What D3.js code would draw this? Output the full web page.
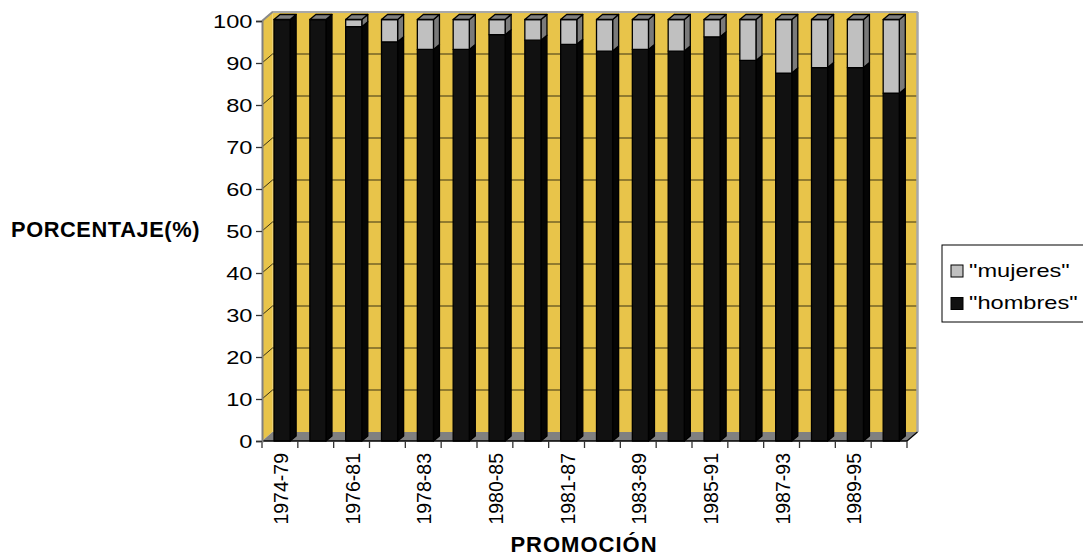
<!DOCTYPE html>
<html>
<head>
<meta charset="utf-8">
<script src="https://cdn.jsdelivr.net/npm/d3@7"></script>
<style>
  html, body { margin: 0; padding: 0; background: #fff; }
  svg { display: block; font-family: "Liberation Sans", Arial, sans-serif; }
</style>
</head>
<body>
<svg id="chart" width="1083" height="557"></svg>
<script>
// Promociones (cohorts) along the x axis
const categories = ["1974-79","1975-80","1976-81","1977-82","1978-83","1979-84","1980-85","1981-86","1981-87",
                    "1982-88","1983-89","1984-90","1985-91","1986-92","1987-93","1988-94","1989-95","1990-96"];
// Percentage of men in each promoción
const hombres = [100, 100, 98.3, 94.7, 92.9, 92.9, 96.4, 95.1, 94.1, 92.5, 92.9, 92.5, 95.9, 90.3, 87.3, 88.6, 88.6, 82.5];
// Percentage of women in each promoción
const mujeres = [0, 0, 1.7, 5.3, 7.1, 7.1, 3.6, 4.9, 5.9, 7.5, 7.1, 7.5, 4.1, 9.7, 12.7, 11.4, 11.4, 17.5];
// Category labels that are printed (every other promoción)
const tickLabels = ["1974-79","1976-81","1978-83","1980-85","1981-87","1983-89","1985-91","1987-93","1989-95"];
const yTicks = [0, 10, 20, 30, 40, 50, 60, 70, 80, 90, 100];
const seriesNames = ['"mujeres"', '"hombres"'];

const svg = d3.select("#chart");

// Plot geometry (front plane) and 3D depth of the walls
const plotLeft = 262, plotRight = 907, plotBottom = 441, plotTop = 21;
const depthX = 10.5, depthY = 9;
const barDX = 6, barDY = 5;

const x = d3.scaleBand().domain(categories).range([plotLeft, plotRight]).padding(0);
const y = d3.scaleLinear().domain([0, 100]).range([plotBottom, plotTop]);
const yBar = d3.scaleLinear().domain([0, 100]).range([plotBottom, plotTop - 1.5]);

const wallFill = "#E8C44A";
const gridColor = "#3a3214";

// Back wall
svg.append("rect")
  .attr("x", plotLeft + depthX).attr("y", plotTop - depthY)
  .attr("width", plotRight - plotLeft).attr("height", plotBottom - plotTop)
  .attr("fill", wallFill);

// Left side wall
svg.append("polygon")
  .attr("points", [[plotLeft, plotTop], [plotLeft + depthX, plotTop - depthY], [plotLeft + depthX, plotBottom - depthY], [plotLeft, plotBottom]].join(" "))
  .attr("fill", wallFill);

// Gridlines across side and back walls
yTicks.filter(v => v > 0).forEach(v => {
  svg.append("polyline")
    .attr("points", [[plotLeft, y(v)], [plotLeft + depthX, y(v) - depthY], [plotRight + depthX, y(v) - depthY]].join(" "))
    .attr("fill", "none").attr("stroke", gridColor).attr("stroke-width", 1);
});

// Wall edges
svg.append("line")
  .attr("x1", plotLeft + depthX).attr("x2", plotRight + depthX)
  .attr("y1", plotTop - depthY).attr("y2", plotTop - depthY)
  .attr("stroke", "#a8a8a8").attr("stroke-width", 2);
svg.append("line")
  .attr("x1", plotLeft).attr("y1", plotTop).attr("x2", plotLeft + depthX).attr("y2", plotTop - depthY)
  .attr("stroke", "#8a8a8a").attr("stroke-width", 2);
svg.append("line")
  .attr("x1", plotRight + depthX).attr("x2", plotRight + depthX)
  .attr("y1", plotTop - depthY).attr("y2", plotBottom - depthY)
  .attr("stroke", "#a8a8a8").attr("stroke-width", 2.5);

// Floor
svg.append("polygon")
  .attr("points", [[plotLeft, plotBottom], [plotLeft + depthX, plotBottom - depthY], [plotRight + depthX, plotBottom - depthY], [plotRight, plotBottom]].join(" "))
  .attr("fill", "#808080");

// Bars: stacked hombres (bottom) + mujeres (top), with side and top faces
const bw = x.bandwidth() * 0.45;
const bOff = x.bandwidth() * 0.335;
const stroke = "#000";

function face(g, pts, fill) {
  g.append("polygon").attr("points", pts.map(p => p.join(",")).join(" "))
    .attr("fill", fill).attr("stroke", stroke).attr("stroke-width", 1.3).attr("stroke-linejoin", "round");
}

categories.forEach((c, i) => {
  const g = svg.append("g");
  const x0 = x(c) + bOff, x1 = x0 + bw;
  const segs = [
    { from: 0, to: hombres[i], front: "#111111", side: "#050505" },
    { from: hombres[i], to: hombres[i] + mujeres[i], front: "#C0C0C0", side: "#7a7a7a" }
  ];
  segs.forEach(s => {
    if (s.to - s.from <= 0) return;
    const yb = yBar(s.from), yt = yBar(s.to);
    face(g, [[x1, yt], [x1 + barDX, yt - barDY], [x1 + barDX, yb - barDY], [x1, yb]], s.side);
    face(g, [[x0, yt], [x1, yt], [x1, yb], [x0, yb]], s.front);
  });
  const yt = yBar(hombres[i] + mujeres[i]);
  face(g, [[x0, yt], [x0 + barDX, yt - barDY], [x1 + barDX, yt - barDY], [x1, yt]], "#808080");
});

// X axis line and floor edge
svg.append("line")
  .attr("x1", plotLeft).attr("x2", plotRight).attr("y1", plotBottom).attr("y2", plotBottom)
  .attr("stroke", "#000").attr("stroke-width", 1.5);
svg.append("line")
  .attr("x1", plotRight).attr("y1", plotBottom).attr("x2", plotRight + depthX).attr("y2", plotBottom - depthY)
  .attr("stroke", "#000").attr("stroke-width", 1.2);

// X ticks at category boundaries
const boundaries = categories.map(c => x(c)).concat([plotRight]);
svg.selectAll(".xtick").data(boundaries).join("line")
  .attr("x1", d => d).attr("x2", d => d)
  .attr("y1", plotBottom).attr("y2", plotBottom + 7)
  .attr("stroke", "#333").attr("stroke-width", 1.3);

// X tick labels (every other promoción), rotated
svg.selectAll(".xlab").data(tickLabels).join("text")
  .attr("transform", d => `translate(${x(d) + x.bandwidth() / 2 + 1},${plotBottom + 12}) rotate(-90)`)
  .attr("text-anchor", "end").attr("dy", "0.36em")
  .attr("font-size", 19.5).attr("fill", "#000")
  .text(d => d);

// Y axis
const yAxis = svg.append("g")
  .attr("transform", `translate(${plotLeft},0)`)
  .call(d3.axisLeft(y).tickValues(yTicks).tickSize(6).tickFormat(d3.format("d")));
yAxis.select(".domain").attr("stroke", "#808080").attr("stroke-width", 2);
yAxis.selectAll(".tick line").attr("stroke", "#333").attr("stroke-width", 1.3);
yAxis.selectAll(".tick text")
  .attr("x", null).attr("dy", "0.36em")
  .attr("transform", "translate(-9.5,0) scale(1.35,1)")
  .attr("font-size", 17.5).attr("fill", "#000")
  .attr("font-family", "'Liberation Sans', Arial, sans-serif");

// Axis titles
svg.append("text")
  .attr("x", 11).attr("y", 237)
  .attr("font-size", 21.8).attr("font-weight", "bold").attr("letter-spacing", 0.6).attr("fill", "#000")
  .text("PORCENTAJE(%)");
svg.append("text")
  .attr("x", 584).attr("y", 552)
  .attr("text-anchor", "middle")
  .attr("font-size", 22).attr("font-weight", "bold").attr("letter-spacing", 1).attr("fill", "#000")
  .text("PROMOCIÓN");

// Legend
const legend = svg.append("g");
legend.append("rect")
  .attr("x", 942).attr("y", 245).attr("width", 160).attr("height", 77)
  .attr("fill", "#fff").attr("stroke", "#000").attr("stroke-width", 1);
const legendFills = ["#C0C0C0", "#111111"];
seriesNames.forEach((name, i) => {
  const yy = 265 + i * 32.5;
  legend.append("rect")
    .attr("x", 951).attr("y", yy).attr("width", 12).attr("height", 12)
    .attr("fill", legendFills[i]).attr("stroke", "#000").attr("stroke-width", 1);
  legend.append("text")
    .attr("transform", `translate(969,${yy + 11.5}) scale(1.35,1)`)
    .attr("font-size", 17.5).attr("fill", "#000")
    .text(name);
});
</script>
</body>
</html>
